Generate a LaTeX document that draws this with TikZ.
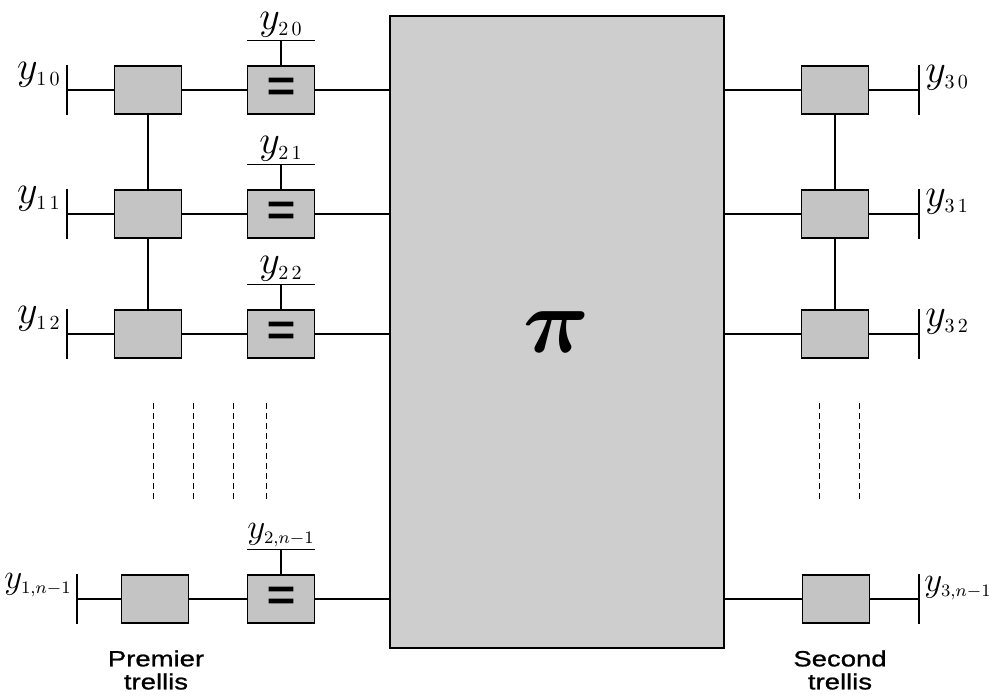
\RequirePackage{fix-cm}
\documentclass[tikz,border=0pt]{standalone}
\usepackage{fontspec}
\usepackage{bm}
\usetikzlibrary{calc,positioning}
\newfontfamily\trellisfont[FakeStretch=1.25,FakeBold=1]{Liberation Sans}
\newfontfamily\eqfont[FakeBold=2.5]{Liberation Sans}
\definecolor{boxgray}{RGB}{196,196,196}
\definecolor{pigray}{RGB}{206,206,206}
\tikzset{
  trbox/.style={draw=black,fill=boxgray,line width=0.6pt,minimum width=33.5pt,minimum height=24pt,inner sep=0pt},
  eqbox/.style={trbox,font=\eqfont\fontsize{24}{24}\selectfont},
  pibox/.style={draw=black,fill=pigray,line width=0.8pt,minimum width=167pt,minimum height=316pt,inner sep=0pt,font=\fontsize{46}{46}\selectfont},
  wire/.style={draw=black,line width=0.6pt},
  ylab/.style={inner sep=0pt,font=\fontsize{20}{22}\selectfont},
  ylabn/.style={inner sep=0pt,font=\fontsize{17.5}{20}\selectfont},
  dotline/.style={draw=black,line width=0.4pt,dash pattern=on 3pt off 2pt},
  trlab/.style={align=center,inner sep=0pt,font=\trellisfont\fontsize{11}{11.5}\selectfont},
}

\begin{document}
\begin{tikzpicture}[x=0.5pt,y=-0.5pt]
  \useasboundingbox (0,0) rectangle (989,695);
  % interleaver
  \node[pibox] (pi) at (557,332) {$\bm{\pi}$};
  % rows 0..2
  \foreach \r/\yy in {0/90,1/214,2/334}{
    \node[trbox] (t\r) at (148,\yy) {};
    \node[eqbox] (e\r) at (281,\yy) {=};
    \node[trbox] (s\r) at (835,\yy) {};
    \coordinate (bl\r) at (67,\yy);
    \coordinate (br\r) at (919,\yy);
    \coordinate (c\r) at ($(e\r.north)+(0,-25)$);
    \draw[wire] (bl\r |- t\r.north) -- (bl\r |- t\r.south);
    \draw[wire] (br\r |- s\r.north) -- (br\r |- s\r.south);
    \draw[wire] (bl\r) -- (t\r) -- (e\r) -- (e\r -| pi.west);
    \draw[wire] (s\r -| pi.east) -- (s\r) -- (br\r);
    \draw[wire] (c\r -| e\r.west) -- (c\r -| e\r.east);
    \draw[wire] (c\r) -- (e\r);
    \node[ylab,anchor=base east] (yl\r) at ($(bl\r |- t\r.north)+(-6,14)$) {$y_{\scriptscriptstyle 1\,\r}$};
    \node[ylab,anchor=base] (yt\r) at ($(c\r)+(0,-11)$) {$y_{\scriptscriptstyle 2\,\r}$};
    \node[ylab,anchor=base west] (yr\r) at ($(br\r |- s\r.north)+(6,17)$) {$y_{\scriptscriptstyle 3\,\r}$};
  }
  % last row
  \node[trbox] (tn) at (155,599) {};
  \node[eqbox] (en) at (281,599) {=};
  \node[trbox] (sn) at (836,599) {};
  \coordinate (bln) at (77,599);
  \coordinate (brn) at (919,599);
  \coordinate (cn) at ($(en.north)+(0,-25)$);
  \draw[wire] (bln |- tn.north) -- (bln |- tn.south);
  \draw[wire] (brn |- sn.north) -- (brn |- sn.south);
  \draw[wire] (bln) -- (tn) -- (en) -- (en -| pi.west);
  \draw[wire] (sn -| pi.east) -- (sn) -- (brn);
  \draw[wire] (cn -| en.west) -- (cn -| en.east);
  \draw[wire] (cn) -- (en);
  \node[ylabn,anchor=base east] (yln) at ($(bln |- tn.north)+(-5,14)$) {$y_{\scriptscriptstyle 1,n-1}$};
  \node[ylabn,anchor=base] (ytn) at ($(cn)+(0,-11)$) {$y_{\scriptscriptstyle 2,n-1}$};
  \node[ylabn,anchor=base west] (yrn) at ($(brn |- sn.north)+(5,17)$) {$y_{\scriptscriptstyle 3,n-1}$};
  % trellis links
  \draw[wire] (t0) -- (t1) -- (t2);
  \draw[wire] (s0) -- (s1) -- (s2);
  % omitted rows
  \foreach \xx in {153,193,233,266,819,859}
    \draw[dotline] (\xx,403) -- (\xx,502);
  \node[trlab,anchor=north] (prem) at (156,650) {Premier\\trellis};
  \node[trlab,anchor=north] (sec) at (840,650) {Second\\trellis};
\end{tikzpicture}
\end{document}
